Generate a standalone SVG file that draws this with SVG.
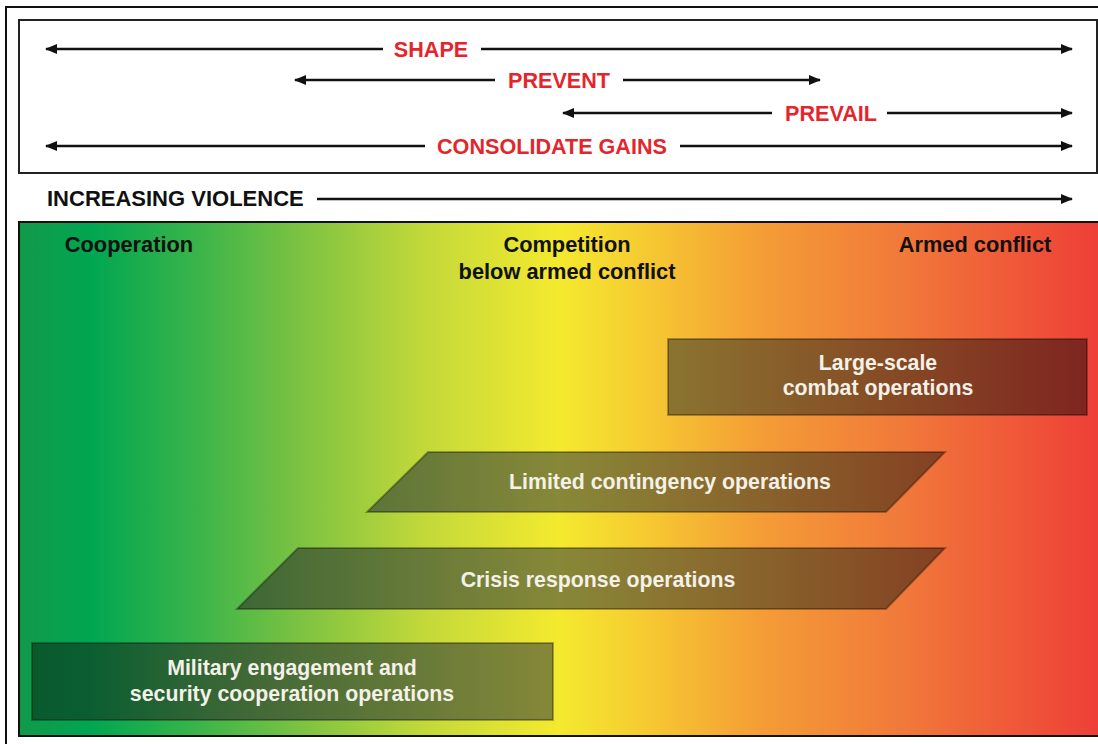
<svg xmlns="http://www.w3.org/2000/svg" width="1098" height="744" viewBox="0 0 1098 744">
<defs>
<style>
.red{font-family:"Liberation Sans",Arial,sans-serif;font-weight:bold;font-size:21.6px;fill:#e4262c;text-anchor:middle}
.blk{font-family:"Liberation Sans",Arial,sans-serif;font-weight:bold;font-size:22px;fill:#111}
.hdr{font-family:"Liberation Sans",Arial,sans-serif;font-weight:bold;font-size:21.8px;fill:#111;text-anchor:middle}
.wt{font-family:"Liberation Sans",Arial,sans-serif;font-weight:bold;font-size:21.3px;fill:#f4f1e8;text-anchor:middle}
.ln{stroke:#111;stroke-width:2.7;fill:none}
.box{fill:url(#shade);stroke:#000;stroke-opacity:0.3;stroke-width:2}
</style>
<marker id="ah" viewBox="0 0 12 10" refX="11" refY="5" markerWidth="12" markerHeight="10" markerUnits="userSpaceOnUse" orient="auto-start-reverse">
<path d="M0,0 L12,5 L0,10 Z" fill="#111"/>
</marker>
<linearGradient id="bg" gradientUnits="userSpaceOnUse" x1="19" y1="0" x2="1098" y2="0">
<stop offset="0" stop-color="#12994a"/>
<stop offset="0.066" stop-color="#00a651"/>
<stop offset="0.17" stop-color="#3db54a"/>
<stop offset="0.26" stop-color="#7cc242"/>
<stop offset="0.372" stop-color="#c1d83a"/>
<stop offset="0.5" stop-color="#f4ea2e"/>
<stop offset="0.585" stop-color="#f6c832"/>
<stop offset="0.687" stop-color="#f49d36"/>
<stop offset="0.816" stop-color="#f17a3a"/>
<stop offset="1" stop-color="#ee3f37"/>
</linearGradient>
<linearGradient id="shade" gradientUnits="userSpaceOnUse" x1="19" y1="0" x2="1098" y2="0">
<stop offset="0" stop-color="#085a2d"/>
<stop offset="0.066" stop-color="#0b5e31"/>
<stop offset="0.2" stop-color="#3d6736"/>
<stop offset="0.37" stop-color="#677a39"/>
<stop offset="0.5" stop-color="#878838"/>
<stop offset="0.6" stop-color="#8a7431"/>
<stop offset="0.8" stop-color="#864c25"/>
<stop offset="1" stop-color="#7e2320"/>
</linearGradient>
</defs>
<rect width="1098" height="744" fill="#fff"/>
<path d="M6,744 V7 H1098" fill="none" stroke="#111" stroke-width="2"/>
<rect x="19" y="20" width="1078" height="153" fill="#fff" stroke="#222" stroke-width="2"/>
<rect x="19" y="222" width="1080" height="514" fill="url(#bg)" stroke="#111" stroke-width="2"/>

<g id="connectors">
<line class="ln" x1="383" y1="49" x2="46" y2="49" marker-end="url(#ah)"/>
<line class="ln" x1="481" y1="49" x2="1072" y2="49" marker-end="url(#ah)"/>
<line class="ln" x1="495" y1="80" x2="295" y2="80" marker-end="url(#ah)"/>
<line class="ln" x1="623" y1="80" x2="820" y2="80" marker-end="url(#ah)"/>
<line class="ln" x1="772" y1="113" x2="563" y2="113" marker-end="url(#ah)"/>
<line class="ln" x1="887" y1="113" x2="1072" y2="113" marker-end="url(#ah)"/>
<line class="ln" x1="425" y1="146" x2="46" y2="146" marker-end="url(#ah)"/>
<line class="ln" x1="680" y1="146" x2="1072" y2="146" marker-end="url(#ah)"/>
<line class="ln" x1="317" y1="199" x2="1072" y2="199" marker-end="url(#ah)"/>
</g>

<g id="labels">
<text class="red" x="431" y="57">SHAPE</text>
<text class="red" x="559" y="88">PREVENT</text>
<text class="red" x="831" y="121">PREVAIL</text>
<text class="red" x="552" y="154">CONSOLIDATE GAINS</text>
<text class="blk" x="47" y="206">INCREASING VIOLENCE</text>
<text class="hdr" x="129" y="252">Cooperation</text>
<text class="hdr" x="567" y="252">Competition</text>
<text class="hdr" x="567" y="279">below armed conflict</text>
<text class="hdr" x="975" y="252">Armed conflict</text>
</g>

<g id="node-large-scale">
<rect class="box" x="668" y="339" width="419" height="76"/>
<text class="wt" x="878" y="370">Large-scale</text>
<text class="wt" x="878" y="395">combat operations</text>
</g>
<g id="node-limited">
<polygon class="box" points="428,452 945,452 886,512 367,512"/>
<text class="wt" x="670" y="489">Limited contingency operations</text>
</g>
<g id="node-crisis">
<polygon class="box" points="298,548 945,548 886,609 237,609"/>
<text class="wt" x="598" y="587">Crisis response operations</text>
</g>
<g id="node-military">
<rect class="box" x="32" y="643" width="521" height="77"/>
<text class="wt" x="292" y="675">Military engagement and</text>
<text class="wt" x="292" y="701">security cooperation operations</text>
</g>
</svg>
